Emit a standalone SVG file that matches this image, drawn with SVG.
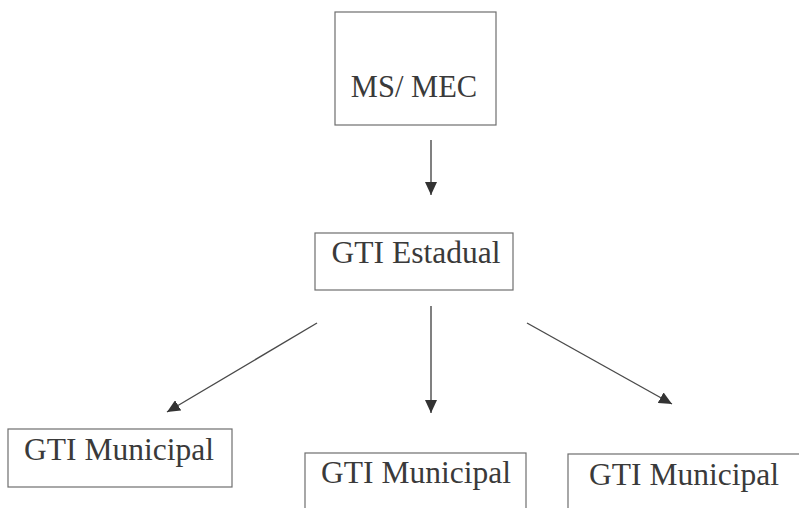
<svg xmlns="http://www.w3.org/2000/svg" width="799" height="508" viewBox="0 0 799 508">
<style>
.box{fill:#fff;stroke:#6e6e6e;stroke-width:1.2}
.lbl{font-family:"Liberation Serif","Times New Roman",serif;font-size:31.5px;fill:#3a3a3a}
.conn{stroke:#4a4a4a;stroke-width:1.4;fill:none;marker-end:url(#ah)}
</style>
<defs>
<marker id="ah" markerUnits="userSpaceOnUse" markerWidth="14" markerHeight="12" refX="13" refY="6" orient="auto">
<path d="M0,0 L13,6 L0,12 Z" fill="#333"/>
</marker>
</defs>
<rect width="799" height="508" fill="#fff"/>
<g id="connectors">
<line class="conn" x1="431" y1="140" x2="431" y2="195"/>
<line class="conn" x1="431" y1="306" x2="431" y2="413"/>
<line class="conn" x1="317" y1="323" x2="167" y2="412"/>
<line class="conn" x1="527" y1="323" x2="672" y2="404"/>
</g>
<g id="ms-mec">
<rect class="box" x="335" y="12" width="161" height="113"/>
<text class="lbl" x="414" y="97" text-anchor="middle" style="font-size:30.5px">MS/ MEC</text>
</g>
<g id="gti-estadual">
<rect class="box" x="315" y="233" width="198" height="57"/>
<text class="lbl" x="416" y="263" text-anchor="middle">GTI Estadual</text>
</g>
<g id="gti-municipal-1">
<rect class="box" x="8" y="429" width="224" height="58"/>
<text class="lbl" x="119" y="460" text-anchor="middle">GTI Municipal</text>
</g>
<g id="gti-municipal-2">
<rect class="box" x="305" y="453" width="221" height="60"/>
<text class="lbl" x="416" y="483" text-anchor="middle">GTI Municipal</text>
</g>
<g id="gti-municipal-3">
<rect class="box" x="568" y="454" width="240" height="60"/>
<text class="lbl" x="684" y="485" text-anchor="middle">GTI Municipal</text>
</g>
</svg>
